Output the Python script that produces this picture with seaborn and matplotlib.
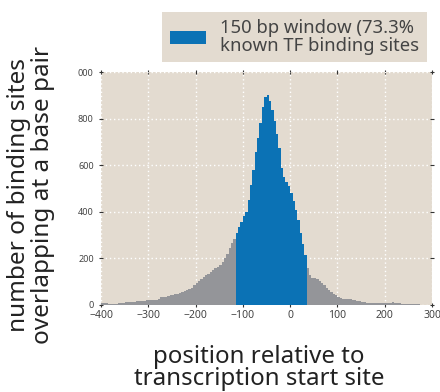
import numpy as np
import pandas as pd
import matplotlib
matplotlib.use("Agg")
import matplotlib.pyplot as plt
import seaborn as sns
from matplotlib.patches import Patch

# ---- data (5 bp bins, left edges from -400 to 295) ----
bin_start = -400
bin_width = 5
counts = [
    7, 10, 10, 6, 5, 5, 6, 10, 10, 10,          # -400 .. -355
    11, 13, 14, 14, 15, 16, 17, 17, 18, 20,     # -350 .. -305
    21, 21, 22, 22, 24, 33, 35, 36, 38, 41,     # -300 .. -255
    44, 46, 48, 51, 55, 58, 63, 68, 75, 84,     # -250 .. -205
    95, 103, 112, 120, 128, 135, 142, 150, 157, 165,  # -200 .. -155
    170, 183, 200, 220, 245, 265, 285, 310, 336, 358, # -150 .. -105
    380, 400, 450, 515, 580, 655, 715, 780, 848, 893, # -100 .. -55
    900, 875, 835, 790, 735, 675, 590, 550, 530, 512, # -50 .. -5
    480, 445, 408, 365, 310, 262, 215, 160, 130, 118, # 0 .. 45
    114, 110, 104, 95, 85, 75, 66, 57, 48, 42,        # 50 .. 95
    36, 31, 27, 25, 24, 24, 23, 21, 19, 16,           # 100 .. 145
    14, 12, 10, 8, 7, 7, 7, 7, 7, 8,                  # 150 .. 195
    8, 9, 10, 11, 8, 7, 9, 6, 4, 3,                   # 200 .. 245
    3, 3, 3, 3, 3, 2, 2, 2, 2, 2,                     # 250 .. 295
]
window = (-115, 35)
legend_label = "150 bp window (73.3%\nknown TF binding sites"
xticks = [-400, -300, -200, -100, 0, 100, 200, 300]
yticks = [0, 200, 400, 600, 800, 1000]
ytick_labels = ["0", "200", "400", "600", "800", "000"]
xlabel = "position relative to\ntranscription start site"
ylabel = "number of binding sites\noverlapping at a base pair"

pos = bin_start + bin_width * np.arange(len(counts)) + bin_width / 2
df = pd.DataFrame({"pos": pos, "count": counts})
df["inwin"] = (df["pos"] > window[0]) & (df["pos"] < window[1])
x_range = (bin_start, bin_start + bin_width * len(counts))

BG = "#e3dbd0"
GRAY = "#949599"
BLUE = "#0b72b5"
TXT = "#444444"
FONT = ["Noto Sans", "DejaVu Sans"]

sns.set_theme(style="white")
plt.rcParams["font.family"] = FONT

fig = plt.figure(figsize=(4.4, 3.92), dpi=100)
ax = fig.add_axes([101 / 440, 1 - 305 / 392, 331 / 440, 233 / 392])
ax.set_facecolor(BG)

sns.histplot(data=df[~df["inwin"]], x="pos", weights="count",
             binwidth=bin_width, binrange=x_range,
             color=GRAY, alpha=1, linewidth=0, ax=ax)
sns.histplot(data=df[df["inwin"]], x="pos", weights="count",
             binwidth=bin_width, binrange=x_range,
             color=BLUE, alpha=1, linewidth=0, ax=ax)

ax.set_xlim(-400, 300)
ax.set_ylim(0, 1000)
ax.set_xticks(xticks)
ax.set_yticks(yticks)
ax.set_yticklabels(ytick_labels)
ax.set_xlabel("")
ax.set_ylabel("")
ax.set_axisbelow(True)
ax.grid(True, color="white", linestyle=(0, (1, 2)), linewidth=1.0)
for s in ax.spines.values():
    s.set_visible(False)
ax.tick_params(axis="both", which="both", direction="inout", length=2.5,
               width=0.8, color="#333333", top=True, right=True,
               bottom=True, left=True)
ax.tick_params(axis="x", labelsize=7.5, labelcolor=TXT, pad=2)
ax.tick_params(axis="y", labelsize=6.5, labelcolor=TXT, pad=4)

fig.text(31 / 440, 1 - 195 / 392, ylabel, rotation=90, ha="center",
         va="center", fontsize=17.5, color="#222222", linespacing=0.95,
         multialignment="center")
fig.text(259 / 440, 1 - 368 / 392, xlabel, ha="center", va="center",
         fontsize=17.3, color="#222222", linespacing=0.85,
         multialignment="center")

leg = ax.legend(handles=[Patch(facecolor=BLUE, edgecolor="none")],
                labels=[legend_label], loc="upper right",
                bbox_to_anchor=(427 / 440, 1 - 12 / 392),
                bbox_transform=fig.transFigure, frameon=True,
                fancybox=False, facecolor=BG, edgecolor="none",
                framealpha=1, fontsize=13.3, handlelength=1.95,
                handleheight=0.65, handletextpad=0.8, borderpad=0.4,
                borderaxespad=0, labelspacing=0.2)
for t in leg.get_texts():
    t.set_color(TXT)
    t.set_linespacing(0.95)

fig.savefig("out.png", dpi=100)
